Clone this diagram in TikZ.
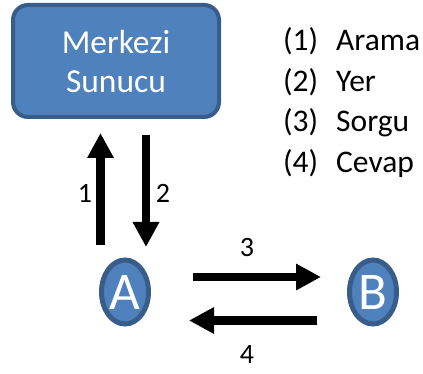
\documentclass[tikz,border=0pt]{standalone}
\usepackage{fontspec}
\setmainfont{Carlito}
\usetikzlibrary{arrows.meta,shapes.geometric}
\definecolor{officeblue}{HTML}{4F81BD}
\definecolor{officeedge}{HTML}{385D8A}
\begin{document}
\begin{tikzpicture}[x=1pt,y=-1pt,
  serverbox/.style={draw=officeedge, fill=officeblue, line width=4pt,
    rounded corners=15pt, minimum width=206pt, minimum height=112pt,
    inner sep=0pt, align=center, text=white,
    font=\fontsize{33.5}{39}\selectfont},
  peer/.style={ellipse, draw=officeedge, fill=officeblue, line width=5pt,
    minimum width=47pt, minimum height=64pt, inner sep=0pt, text=white,
    font=\fontsize{53}{53}\selectfont},
  bigarrow/.style={line width=8.5pt, -{Triangle[length=25pt,width=25pt]}},
  steplabel/.style={anchor=base, inner sep=0pt, font=\fontsize{28}{28}\selectfont},
  legendtext/.style={anchor=base west, inner sep=0pt, font=\fontsize{31.5}{31.5}\selectfont}]
  \useasboundingbox (0,0) rectangle (423,374);

  % central server and the two peers
  \node[serverbox] (server) at (116,61) {Merkezi\\Sunucu};
  \node[peer] (A) at (125,292) {A};
  \node[peer] (B) at (373,292) {B};

  % arrow end points
  \coordinate (s1) at (100.5,245);
  \coordinate (e1) at (100.5,133);
  \coordinate (s2) at (146,135);
  \coordinate (e2) at (146,247);
  \coordinate (s3) at (193,277);
  \coordinate (e3) at (321,277);
  \coordinate (s4) at (317,320.5);
  \coordinate (e4) at (189,320.5);

  % message arrows
  \draw[bigarrow] (s1) -- (e1);
  \draw[bigarrow] (s2) -- (e2);
  \draw[bigarrow] (s3) -- (e3);
  \draw[bigarrow] (s4) -- (e4);

  % step numbers
  \node[steplabel] (n1) at (85,203) {1};
  \node[steplabel] (n2) at (163,203) {2};
  \node[steplabel] (n3) at (247,257) {3};
  \node[steplabel] (n4) at (247,363) {4};

  % legend
  \node[legendtext] (k1) at (283,51) {(1)};
  \node[legendtext] (l1) at (336,51) {Arama};
  \node[legendtext] (k2) at (283,91.5) {(2)};
  \node[legendtext] (l2) at (336,91.5) {Yer};
  \node[legendtext] (k3) at (283,132) {(3)};
  \node[legendtext] (l3) at (336,132) {Sorgu};
  \node[legendtext] (k4) at (283,172.5) {(4)};
  \node[legendtext] (l4) at (336,172.5) {Cevap};
\end{tikzpicture}
\end{document}
